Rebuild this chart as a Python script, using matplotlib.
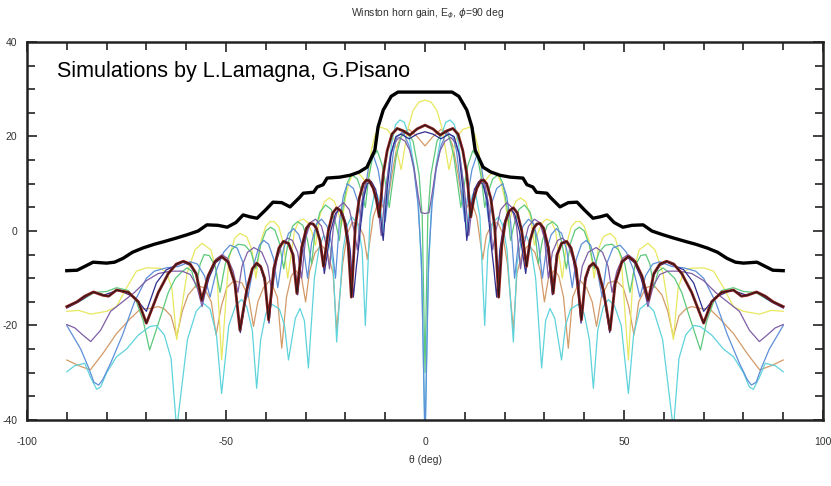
import matplotlib
import numpy as np

matplotlib.use("Agg")
import matplotlib.pyplot as plt

# pattern is symmetric about theta = 0, so each curve is given for theta >= 0
# and mirrored for the negative side.

ENV_THETA = [0, 6.8, 8.5, 10.5, 11.8, 12.6, 14.6, 16.5, 18.8, 21.4, 24.6, 25.6, 27.1, 28, 30.6,
             31.4, 33.9, 36, 38.2, 40, 42.2, 44, 45.7, 47.5, 49.7, 52, 54.8, 57, 59.8, 62.5,
             65.8, 68, 70.9, 73.5, 75.9, 78, 80, 83.4, 85.5, 87.4, 90]
ENV_DB = [29.4, 29.4, 28.5, 25.6, 22, 17.1, 13.5, 12.5, 11.8, 11.4, 11.2, 9.8, 9.3, 8.2, 8.0,
          7.2, 5.1, 6.0, 6.1, 4.5, 2.7, 3.0, 3.4, 1.8, 0.8, 1.2, 1.3, 0.0, -0.8, -1.5,
          -2.3, -2.8, -3.6, -4.5, -5.8, -6.6, -6.8, -6.6, -7.5, -8.3, -8.4]

YELLOW_THETA = [0, 1.5, 3, 4.2, 5.2, 6, 6.8, 7.8, 9.5, 11.3, 12.5, 13.5, 14.5, 15.3, 16.2, 17.2,
                18, 19, 20, 21, 21.8, 22.8, 24, 25.3, 26.5, 27.5, 28.4, 29.5, 30.5, 31.6, 32.8,
                34.5, 35.5, 36.7, 37.9, 38.9, 40, 41.2, 42.5, 43.5, 44.8, 46.5, 47.8, 49.3, 51.1,
                52.3, 53.8, 56, 57.8, 59.8, 62.4, 63.6, 65, 66.5, 70, 72.5, 75, 77.5, 80, 84, 87, 90]
YELLOW_DB = [27.7, 27.3, 25.5, 22, 17, 13, 16, 19.5, 21.5, 22, 20.5, 17, 10, 10.8, 11.8, 12.3,
             12.2, 10.5, 7, 1, 4, 6.3, 7, 6.2, 3, -3, -0.3, 1.8, 2.5, 2.2, 0,
             -10, -3, 0.8, 2, 2, 1, -2, -10, -4, -1.2, -0.5, -1.5, -6, -27.3,
             -9, -4, -2.6, -4, -9, -23, -12, -8.7, -7.9, -7.8, -8.5, -12, -16, -17, -17.6, -16.8, -17]

GREEN_THETA = [0, 0.7, 1.5, 3, 4.5, 6, 7.2, 8.2, 9, 9.8, 10.8, 12, 13.2, 14.2, 15, 15.8, 17, 18.5,
               19.6, 20.6, 21.5, 22.4, 23.6, 25, 26.4, 27.6, 28.5, 29.5, 30.7, 32, 33.3, 34.5,
               35.5, 36.6, 37.7, 38.8, 40, 41.3, 42.5, 43.7, 45.3, 47, 48.6, 50.2, 51.5, 52.7,
               54.2, 55.5, 56.5, 57.5, 58.6, 59.8, 61, 62.7, 64.5, 66, 69.2, 70.8, 72.5, 74.5,
               77.5, 80, 83, 86, 90]
GREEN_DB = [-30, 3, 12, 19, 21, 20, 16, 10, 5, 9.5, 14, 17, 15.5, 11, 5, 8, 11, 12,
            10, 5, -2, 1.5, 4.6, 5.5, 4, 0, -7, -2, 1.2, 2, 1, -3,
            -8, -2.5, 0.2, 0.8, 0, -3, -8, -4.5, -3, -2.8, -4, -7, -13, -7.5,
            -5.2, -5, -7, -12, -8.5, -7.8, -8.6, -10, -13, -17, -25.2, -19, -15, -12.6,
            -12, -12.8, -13, -14.5, -16]

CYAN_THETA = [0, 0.8, 1.6, 2.8, 4, 5.2, 6.3, 7.4, 8.4, 9.5, 10.5, 11.2, 12, 12.8, 13.8, 15, 15.8,
              17, 18.5, 19.6, 20.6, 22.2, 23.1, 24.2, 25.5, 26.6, 27.8, 29.3, 30.3, 31.4, 32.6,
              34.3, 35.3, 36.6, 38.5, 40, 41.3, 42.3, 43.4, 44.8, 46.1, 47.6, 49.3, 51.1, 52.4,
              54, 55.7, 57.5, 59.7, 62.4, 63.8, 65.5, 67.5, 69.1, 72, 75, 77.5, 80, 81.5, 82.5,
              84, 85.5, 88, 90]
CYAN_DB = [-45, -10, 5, 14, 20, 23, 23.5, 22.5, 18.5, 11, 0, 5, 7.8, 7.5, 3, -20, -4,
           1.8, 3, 1, -4, -23.5, -7, -2, -1, -3.5, -10, -29, -19, -16.4, -18.5,
           -27.3, -20, -16.5, -15.5, -17.5, -23, -33.3, -21, -16, -14.5, -15.8, -20, -34.4, -22,
           -16.5, -15.3, -17, -23, -42, -27, -22, -20, -20.2, -22, -25, -26.6, -30, -33, -33.5,
           -31, -28, -28.5, -29.8]

BLUE_THETA = [0, 0.9, 1.8, 2.8, 4, 5.5, 7, 7.9, 8.9, 10, 10.8, 11.8, 13, 14, 15, 16, 16.8, 18,
              19.5, 20.5, 21.5, 22.5, 23.4, 24.6, 26, 27.3, 28.5, 29.5, 30.4, 31.7, 33, 34.3,
              35.6, 37, 38, 39.3, 40.5, 41.6, 43, 44.5, 45.6, 47.2, 49, 50.6, 52.3, 54, 55.4,
              57.2, 59, 62, 65, 68, 70, 73, 76, 79, 81, 82, 83.2, 84.5, 86.5, 90]
BLUE_DB = [-45, -6, 6, 13, 18, 21, 20, 17, 10, 2, 8, 13, 16, 14.5, 9, 2, 6, 9,
           10, 7.5, 2, -10, -3, 1, 2.5, 1.5, -2.5, -10, -4.5, -0.8, 0.5, -0.5,
           -4, -12, -6, -2.8, -2, -3, -7, -14, -7, -3.6, -3, -4.5, -8, -14, -9.5,
           -7, -6.5, -7.5, -7.8, -8.5, -10, -15, -22, -28, -31.5, -32.6, -32, -29, -25, -20]

PURPLE_THETA = [0, 1, 1.8, 2.8, 3.8, 5, 6.5, 7.8, 8.8, 10, 11, 11.8, 12.8, 14, 15, 16, 17, 17.8,
                19, 20.5, 21.8, 23, 24, 24.8, 26, 27.5, 28.8, 30, 31, 32, 33.3, 34.5, 35.8, 37.2,
                38.5, 39.5, 41, 43, 44.6, 46, 47, 48.2, 49.6, 51, 52.6, 54.2, 56, 57.4, 59, 61,
                64, 67, 70, 73, 76, 79, 81.5, 84, 86, 88, 90]
PURPLE_DB = [3.7, 3.9, 8, 13.5, 17, 19, 19.8, 18.5, 15.5, 8, -1, 5, 9, 11, 10, 5.5, -4, 0,
             4.5, 6, 5, 1, -8, -3, 1, 2.5, 1.8, -1.5, -10, -4.5, -2, -1.5, -2.5, -6,
             -13, -7.5, -4.5, -3.5, -4.5, -7.5, -13, -8.5, -5.8, -5, -6, -9, -16, -11.5, -9.2, -8.5,
             -8.5, -9, -10.5, -13, -15, -17, -21, -23.4, -22, -20.5, -19.8]

ORANGE_THETA = [0, 2, 4, 5.5, 7, 8.3, 9.2, 10, 10.8, 11.8, 13, 14.5, 15.4, 16.8, 18.3, 19.5, 20.7,
                22.2, 23.1, 24.5, 26, 27.6, 29, 30, 31, 32.5, 33.6, 34.8, 36, 37.1, 38.9, 40.6,
                42, 43.1, 44.3, 46, 48, 49.8, 51.2, 52.5, 53.7, 55.5, 57.5, 59.5, 61, 62.4, 63.8,
                65.5, 67, 69.1, 71.5, 74, 77.5, 81, 84.1, 87, 90]
ORANGE_DB = [18, 20, 21.5, 21, 18, 12, 7, 4, 5.5, 6, 3, -6, -1, 1.5, 1.8, -0.5, -7,
             -21, -9, -4.5, -3, -4.5, -8.5, -15, -10, -8.3, -9.5, -14, -24.8, -14, -10.4, -12,
             -15, -20.2, -14, -11, -10.5, -12, -16, -22, -15, -12, -11.5, -13.5, -17, -22.4, -18,
             -16.5, -16, -16.4, -16.5, -18.5, -21.7, -26, -29.4, -28.5, -27.3]

NAVY_THETA = [0, 2, 4, 6, 7.3, 8.5, 9.5, 10.5, 11.3, 12.4, 13.5, 14.5, 15.6, 16.5, 17.3, 18, 18.8,
              19.8, 20.7, 21.5, 22.5, 23.7, 25.3, 26.1, 27, 27.9, 28.7, 29.6, 30.8, 32, 33, 34.2,
              35.6, 36.7, 38, 39.2, 40.2, 41.3, 42.4, 43.5, 44.8, 46.4, 47.7, 49.4, 51, 52.6,
              54.2, 56, 57.4, 59, 60.8, 63, 65, 67.5, 70, 73, 77, 80.5, 83.5, 87, 90]
NAVY_DB = [21, 20.5, 19.5, 20.5, 20, 16.5, 9, -2, 4, 8.8, 10.5, 10, 6.5, -2, -8, -14, -4,
           1.5, 3.8, 4.5, 3.7, 0, -9, -3, 0, 1.2, 1.5, 0.5, -4, -13.5, -5, -2.8,
           -2.4, -3.6, -9, -19.5, -11, -7.8, -7, -8.2, -13, -21.5, -11.5, -6.8, -5.6, -6.7,
           -9.8, -15, -9.5, -7.3, -6.6, -7.5, -8.2, -11, -17, -14, -12.5, -13.5, -13, -15, -16.3]

DARKRED_THETA = [0, 2, 3.8, 5.5, 7, 8.3, 9.5, 10.5, 11.5, 12.2, 13, 14, 14.7, 15.5, 16.5, 17.5,
                 18.5, 19.3, 20.2, 21.2, 22.2, 23.2, 24.3, 25.5, 26.4, 27.3, 28.1, 28.9, 29.8, 31,
                 32.2, 33.2, 34.3, 35.6, 36.7, 38, 39.3, 40.3, 41.3, 42.3, 43.4, 44.8, 46.5, 47.8,
                 49.5, 51.1, 52.8, 54.5, 56.1, 57.5, 59, 60.7, 62.5, 64.5, 67, 70, 72, 74.5,
                 77.5, 79.5, 81, 83.3, 85.5, 87.5, 90]
DARKRED_DB = [22.4, 21.6, 20.3, 21.2, 21.7, 20.5, 17, 12, 3, 6.5, 9, 10.6, 10.8, 10, 7, 1,
              -14, -3, 2, 4.3, 4.9, 3.8, 0, -7.5, -2, 0.6, 1.5, 1.6, 0.6, -3.5,
              -13.2, -5, -2.6, -2.2, -3.6, -8, -18.8, -10, -7.5, -6.8, -8, -12.5, -21, -11,
              -6.5, -5.4, -6.5, -9.5, -14.6, -9, -7, -6.4, -7, -9, -13, -19.5, -15, -13,
              -12.5, -13.8, -13.6, -12.9, -13.8, -15, -16]


def _mirror(theta, db):
    t = np.asarray(theta, dtype=float)
    d = np.asarray(db, dtype=float)
    return np.concatenate([-t[::-1], t[1:]]), np.concatenate([d[::-1], d[1:]])


plt.rcParams["axes.unicode_minus"] = False

fig = plt.figure(figsize=(8.31, 4.86), dpi=100)
ax = fig.add_axes([0.0325, 0.1358, 0.9579, 0.7778])

thin = [
    (ORANGE_THETA, ORANGE_DB, "#d39a68"),
    (YELLOW_THETA, YELLOW_DB, "#e8e860"),
    (GREEN_THETA, GREEN_DB, "#5cc97c"),
    (CYAN_THETA, CYAN_DB, "#5fd3dc"),
    (BLUE_THETA, BLUE_DB, "#5d8fd8"),
    (PURPLE_THETA, PURPLE_DB, "#7e5ea6"),
    (NAVY_THETA, NAVY_DB, "#2e2e90"),
]
for theta, db, color in thin:
    x, y = _mirror(theta, db)
    ax.plot(x, y, color=color, lw=0.9)

x, y = _mirror(DARKRED_THETA, DARKRED_DB)
ax.plot(x, y, color="#8b1c1c", lw=2.0)
ax.plot(x, y, color="#1a1a1a", lw=0.6)

x, y = _mirror(ENV_THETA, ENV_DB)
ax.plot(x, y, color="black", lw=2.4)

ax.set_xlim(-100, 100)
ax.set_ylim(-40, 40)

label_font = ["Liberation Sans", "DejaVu Sans"]
ax.set_xticks([-100, -50, 0, 50, 100])
ax.set_xticks(np.arange(-100, 101, 10), minor=True)
ax.set_yticks([-40, -20, 0, 20, 40])
ax.set_yticks(np.arange(-40, 41, 5), minor=True)
ax.tick_params(which="both", direction="in", top=True, right=True, width=1.2, color="#222222")
ax.tick_params(which="major", length=7)
ax.tick_params(which="minor", length=6)
ax.tick_params(axis="x", pad=12)
ax.tick_params(axis="y", pad=7)
for label in ax.get_xticklabels() + ax.get_yticklabels():
    label.set_family(label_font)
    label.set_fontsize(7.5)
    label.set_color("#333333")
for spine in ax.spines.values():
    spine.set_linewidth(1.8)
    spine.set_color("#222222")

ax.set_xlabel("\u03b8 (deg)", family=label_font, fontsize=7.5, color="#333333", labelpad=6)
fig.text(0.514, 0.972, r"Winston horn gain, E$_\phi$, $\phi$=90 deg", ha="center", va="center",
         family=label_font, fontsize=7.5, color="#333333")

ax.text(0.0377, 0.907, "Simulations by L.Lamagna, G.Pisano", transform=ax.transAxes,
        ha="left", va="baseline", family=["Liberation Sans", "DejaVu Sans"], fontsize=15.5)

fig.savefig("out.png", dpi=100)
